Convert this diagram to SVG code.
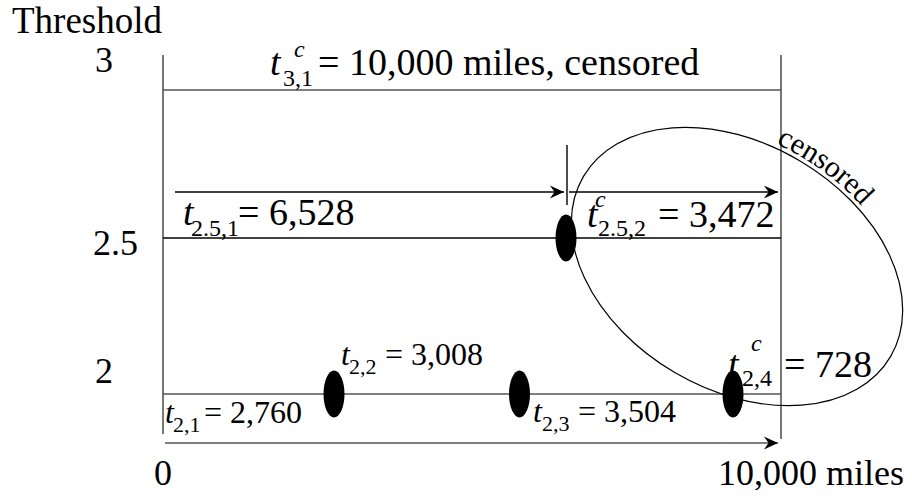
<svg xmlns="http://www.w3.org/2000/svg" width="912" height="497" viewBox="0 0 912 497" font-family="'Liberation Serif', 'Times New Roman', serif">
<style>
text, tspan, textPath{font-family:"Liberation Serif","Times New Roman",serif;fill:#000}
.it{font-style:italic}
.ax{stroke:#555;stroke-width:1.6;fill:none}
.bk{stroke:#000;stroke-width:1.4;fill:none}
.dot{fill:#000}
</style>
<defs>
<marker id="ah" markerWidth="16" markerHeight="16" viewBox="-16 -8 17 16" refX="0" refY="0" orient="auto" markerUnits="userSpaceOnUse">
<path d="M0,0 L-15,-7 L-10,0 L-15,7 Z" fill="#000"/>
</marker>
</defs>
<g id="axes">
<line class="ax" x1="163" y1="55" x2="163" y2="434"/>
<line class="ax" x1="781" y1="55" x2="781" y2="439"/>
<text x="12" y="33" font-size="37">Threshold</text>
<text x="95" y="72" font-size="36">3</text>
<text x="93" y="255" font-size="36">2.5</text>
<text x="95" y="383" font-size="36">2</text>
<text x="154" y="485" font-size="36">0</text>
<text x="718" y="485" font-size="36">10,000 miles</text>
</g>
<g id="connectors">
<line class="ax" x1="163" y1="90" x2="781" y2="90"/>
<line class="bk" x1="163" y1="238" x2="781" y2="238"/>
<line class="ax" x1="163" y1="394" x2="781" y2="394"/>
<line class="bk" x1="175" y1="192" x2="564" y2="192" marker-end="url(#ah)"/>
<line class="bk" x1="567" y1="145" x2="567" y2="205"/>
<line class="bk" x1="569" y1="192" x2="778" y2="192" marker-end="url(#ah)"/>
<line class="ax" x1="165" y1="443" x2="778" y2="443" marker-end="url(#ah)"/>
</g>
<g id="t31">
<text class="it" x="270" y="75" font-size="38">t</text>
<text class="it" x="294" y="57" font-size="24">c</text>
<text x="283" y="86" font-size="24">3,1</text>
<text x="318" y="75" font-size="38">= 10,000 miles, censored</text>
</g>
<g id="t251">
<text class="it" x="183" y="225" font-size="38">t</text>
<text x="191" y="236" font-size="24">2.5,1</text>
<text x="238" y="225" font-size="38">= 6,528</text>
</g>
<g id="t252">
<ellipse class="dot" cx="566" cy="238" rx="10.5" ry="23.5"/>
<text class="it" x="587" y="227" font-size="38">t</text>
<text class="it" x="595" y="207" font-size="24">c</text>
<text x="598" y="236" font-size="24">2.5,2</text>
<text x="658" y="227" font-size="38">= 3,472</text>
</g>
<g id="t21">
<text class="it" x="165" y="423" font-size="32">t</text>
<text x="173" y="432" font-size="22">2,1</text>
<text x="204" y="423" font-size="32">= 2,760</text>
</g>
<g id="t22">
<ellipse class="dot" cx="334" cy="394" rx="10.5" ry="23.5"/>
<text class="it" x="341" y="365" font-size="32">t</text>
<text x="349" y="374" font-size="22">2,2</text>
<text x="385" y="365" font-size="32">= 3,008</text>
</g>
<g id="t23">
<ellipse class="dot" cx="519.5" cy="394" rx="10.5" ry="23.5"/>
<text class="it" x="533" y="422" font-size="32">t</text>
<text x="542" y="431" font-size="22">2,3</text>
<text x="578" y="422" font-size="32">= 3,504</text>
</g>
<g id="t24">
<ellipse class="dot" cx="733" cy="394" rx="10.5" ry="23.5"/>
<text class="it" x="728" y="377" font-size="38">t</text>
<text class="it" x="751" y="351" font-size="24">c</text>
<text x="742" y="386" font-size="24">2,4</text>
<text x="784" y="377" font-size="38">= 728</text>
</g>
<g id="censored" transform="translate(737,266.5) rotate(30.4)">
<ellipse cx="0" cy="0" rx="178" ry="123" fill="none" stroke="#000" stroke-width="1.2"/>
<path id="cp" d="M -182,0 A 182,127 0 0 1 182,0" fill="none"/>
<text font-size="30"><textPath href="#cp" startOffset="216">censored</textPath></text>
</g>
</svg>
